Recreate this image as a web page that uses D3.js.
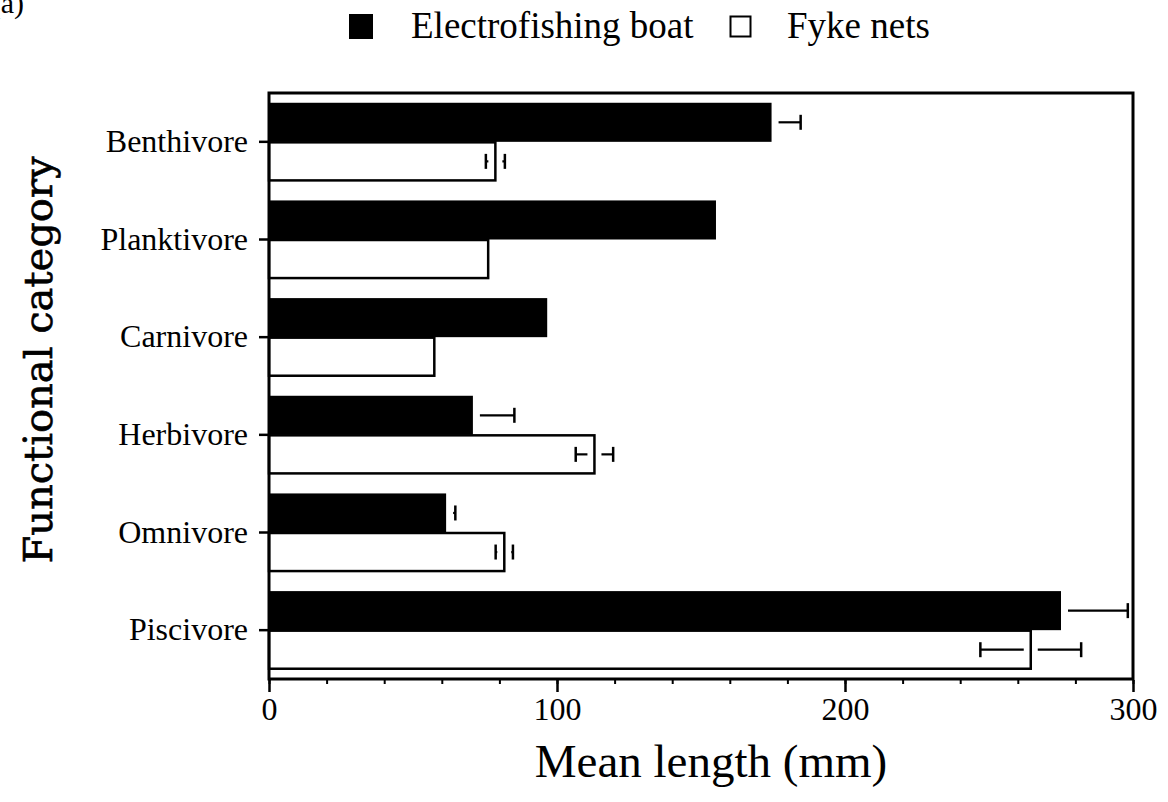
<!DOCTYPE html>
<html>
<head>
<meta charset="utf-8">
<script src="https://cdn.jsdelivr.net/npm/d3@7"></script>
<style>
  html, body { margin: 0; padding: 0; background: #fff; }
  svg { display: block; }
  text { fill: #000; }
</style>
</head>
<body>
<svg id="chart" width="1168" height="802"></svg>
<script>
// Mean fish length by functional feeding category, two sampling gears
const categories = ["Benthivore", "Planktivore", "Carnivore", "Herbivore", "Omnivore", "Piscivore"];
const electroMean = [174.5, 155.2, 96.6, 70.8, 61.5, 275.0];
const electroSE   = [10.1, null, null, 14.4, 3.2, 23.2];
const fykeMean    = [78.6, 76.1, 57.4, 113.0, 81.7, 264.5];
const fykeSE      = [3.3, null, null, 6.5, 3.0, 17.5];
const seriesNames = ["Electrofishing boat", "Fyke nets"];
const xTickValues = [0, 100, 200, 300];
const xMinorTicks = d3.range(0, 301, 20);

const svg = d3.select("#chart");
const plotLeft = 269, plotRight = 1133, plotTop = 93, plotBottom = 679;

const x = d3.scaleLinear().domain([0, 300]).range([plotLeft, plotRight]);
const y = d3.scaleBand().domain(categories).range([plotTop, plotBottom])
  .paddingInner(0.2).paddingOuter(0.1);
const sub = d3.scaleBand().domain(seriesNames).range([0, y.bandwidth()]);

const serif = "'Liberation Serif', 'Times New Roman', serif";

// panel letter, partly off the page edge
svg.append("text").attr("x", 24).attr("y", 13)
  .attr("text-anchor", "end")
  .style("font-family", serif).style("font-size", "30px")
  .text("(a)");

// grouped horizontal bars
const groups = categories.map((c, i) => ({
  cat: c,
  rows: [
    { s: seriesNames[0], m: electroMean[i], se: electroSE[i] },
    { s: seriesNames[1], m: fykeMean[i], se: fykeSE[i] }
  ]
}));

const g = svg.append("g");
groups.forEach(gr => {
  gr.rows.forEach(r => {
    const y0 = y(gr.cat) + sub(r.s);
    const h = sub.bandwidth();
    if (r.s === seriesNames[0]) {
      g.append("rect")
        .attr("x", x(0)).attr("y", y0)
        .attr("width", x(r.m) - x(0)).attr("height", h)
        .attr("fill", "#000");
    } else {
      g.append("rect")
        .attr("x", x(0)).attr("y", y0 + 0.5)
        .attr("width", x(r.m) - x(0)).attr("height", h - 1)
        .attr("fill", "#fff").attr("stroke", "#000").attr("stroke-width", 2.5);
    }
  });
});

// error bars, with a small break around the bar end
const gap = 7, capH = 15;
groups.forEach(gr => {
  gr.rows.forEach(r => {
    if (r.se == null) return;
    const cy = y(gr.cat) + sub(r.s) + sub.bandwidth() / 2;
    const xm = x(r.m), xl = x(r.m - r.se), xu = x(r.m + r.se);
    const eg = g.append("g").attr("stroke", "#000").attr("fill", "none");
    if (xu > xm + gap) eg.append("line").attr("x1", xm + gap).attr("x2", xu).attr("y1", cy).attr("y2", cy).attr("stroke-width", 2.2);
    if (xl < xm - gap) eg.append("line").attr("x1", xl).attr("x2", xm - gap).attr("y1", cy).attr("y2", cy).attr("stroke-width", 2.2);
    [xl, xu].forEach(cx => {
      eg.append("line").attr("x1", cx).attr("x2", cx)
        .attr("y1", cy - capH / 2).attr("y2", cy + capH / 2).attr("stroke-width", 2.5);
    });
  });
});

// plot frame
svg.append("rect")
  .attr("x", plotLeft).attr("y", plotTop)
  .attr("width", plotRight - plotLeft).attr("height", plotBottom - plotTop)
  .attr("fill", "none").attr("stroke", "#000").attr("stroke-width", 3);

// x axis: minor and major ticks
const xAxisMinor = d3.axisBottom(x).tickValues(xMinorTicks).tickSize(4).tickFormat("");
const xAxisMajor = d3.axisBottom(x).tickValues(xTickValues).tickSize(12).tickPadding(5);

const gxm = svg.append("g").attr("transform", `translate(0,${plotBottom + 1})`).call(xAxisMinor);
gxm.select(".domain").remove();
gxm.selectAll(".tick line").attr("stroke", "#000").attr("stroke-width", 2);

const gx = svg.append("g").attr("transform", `translate(0,${plotBottom + 1})`).call(xAxisMajor);
gx.select(".domain").remove();
gx.selectAll(".tick line").attr("stroke", "#000").attr("stroke-width", 2.5);
gx.selectAll(".tick text")
  .style("font-family", serif).style("font-size", "32px").attr("fill", "#000");

// y axis
const yAxis = d3.axisLeft(y).tickSize(10).tickPadding(11);
const gy = svg.append("g").attr("transform", `translate(${plotLeft},0)`).call(yAxis);
gy.select(".domain").remove();
gy.selectAll(".tick line").attr("stroke", "#000").attr("stroke-width", 2.5);
gy.selectAll(".tick text")
  .style("font-family", serif).style("font-size", "32px").attr("fill", "#000");

// axis titles
svg.append("text")
  .attr("x", 711).attr("y", 777)
  .attr("text-anchor", "middle")
  .style("font-family", serif).style("font-size", "47px")
  .text("Mean length (mm)");

svg.append("text")
  .attr("transform", "translate(52,360) rotate(-90)")
  .attr("text-anchor", "middle")
  .style("font-family", "'DejaVu Serif', serif").style("font-size", "40px")
  .style("stroke", "#000").style("stroke-width", 0.6)
  .text("Functional category");

// legend
const legend = svg.append("g").attr("transform", "translate(349,14)");
legend.append("rect").attr("x", 0).attr("y", 0).attr("width", 24).attr("height", 25).attr("fill", "#000");
legend.append("text").attr("x", 62).attr("y", 24)
  .style("font-family", serif).style("font-size", "37px")
  .text(seriesNames[0]);
legend.append("rect").attr("x", 381.5).attr("y", 2.5).attr("width", 20).attr("height", 20)
  .attr("fill", "#fff").attr("stroke", "#000").attr("stroke-width", 2);
legend.append("text").attr("x", 438).attr("y", 24)
  .style("font-family", serif).style("font-size", "37px")
  .text(seriesNames[1]);
</script>
</body>
</html>
